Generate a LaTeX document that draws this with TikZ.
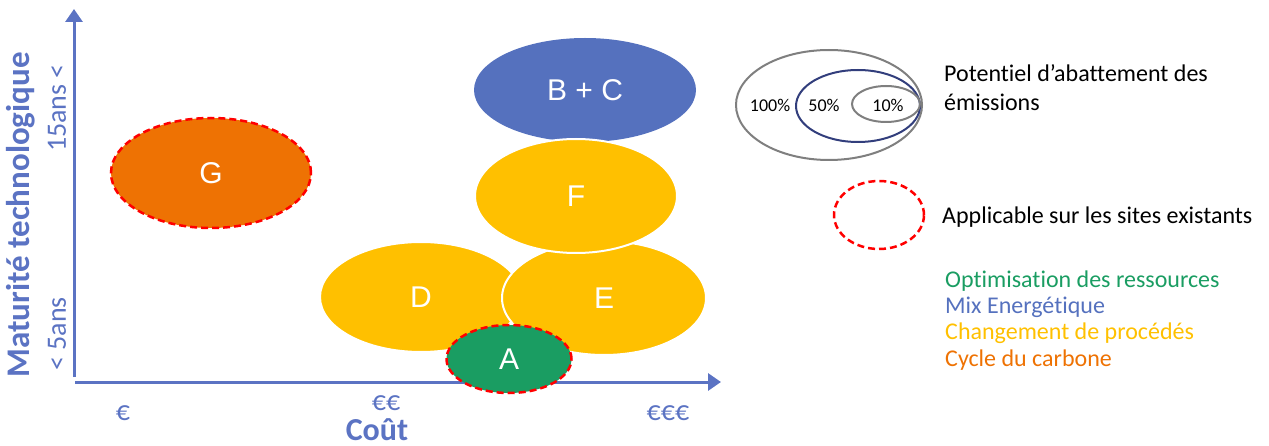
\documentclass[tikz,border=0pt]{standalone}
\usepackage{fontspec}
\setmainfont{Carlito}[Ligatures=NoCommon]
\newfontfamily\arialf{Liberation Sans}
\usetikzlibrary{shapes.geometric,arrows.meta}
\definecolor{axisblue}{HTML}{5B73C3}
\definecolor{bcblue}{HTML}{5571BE}
\definecolor{goldy}{HTML}{FFC000}
\definecolor{greeny}{HTML}{1A9D62}
\definecolor{orangy}{HTML}{EE7203}
\definecolor{redd}{HTML}{FF0000}
\definecolor{grayy}{HTML}{7F7F7F}
\definecolor{navy}{HTML}{323E7C}
\tikzset{
  blob/.style={ellipse, inner sep=0pt, text=white, font=\arialf\fontsize{30}{30}\selectfont},
  yellowblob/.style={blob, fill=goldy, draw=white, line width=2pt},
  reddash/.style={draw=redd, line width=2.5pt, dash pattern=on 7pt off 4pt},
  axisline/.style={draw=axisblue, line width=3pt, -{Triangle[length=13pt,width=17pt]}},
  axislabel/.style={text=axisblue, font=\bfseries\fontsize{33}{33}\selectfont, inner sep=0pt},
  ticklabel/.style={text=axisblue, font=\fontsize{28}{28}\selectfont, inner sep=0pt},
  legtext/.style={font=\fontsize{24}{29}\selectfont, inner sep=0pt, anchor=base west, align=left},
  cattext/.style={font=\fontsize{24}{26}\selectfont, inner sep=0pt, anchor=base west},
  pct/.style={font=\fontsize{18}{18}\selectfont, inner sep=0pt, anchor=base}
}
\begin{document}
\begin{tikzpicture}[x=1pt,y=-1pt]
\useasboundingbox (0,0) rectangle (1269,446);
% axes
\coordinate (yo) at (74,377);
\coordinate (yt) at (74,9);
\coordinate (xo) at (75,382);
\coordinate (xt) at (721,382);
\draw[axisline] (yo) -- (yt);
\draw[axisline] (xo) -- (xt);
% axis labels
\node[axislabel, rotate=90] (ylab) at (21,215) {Maturité technologique};
\node[ticklabel, rotate=90] (y15) at (57,108) {15ans <};
\node[ticklabel, rotate=90] (y5) at (57,334) {< 5ans};
\node[ticklabel, anchor=base] (e1) at (123,420) {€};
\node[ticklabel, anchor=base] (e2) at (386,410) {€€};
\node[ticklabel, anchor=base] (e3) at (668,420) {€€€};
\node[axislabel, anchor=base, font=\bfseries\fontsize{32}{32}\selectfont] (xlab) at (377,440) {Coût};
% blobs
\node[blob, fill=bcblue, minimum width=222pt, minimum height=104pt] (BC) at (585,90) {B + C};
\node[blob, fill=orangy, reddash, minimum width=200pt, minimum height=110pt] (G) at (211,173) {G};
\node[yellowblob, minimum width=202pt, minimum height=110pt] (D) at (421,297) {D};
\node[yellowblob, minimum width=204pt, minimum height=114pt] (E) at (604,298) {E};
\node[yellowblob, minimum width=202pt, minimum height=114pt] (F) at (576,196) {F};
\node[blob, fill=greeny, reddash, minimum width=125pt, minimum height=68pt] (A) at (509,359) {A};
% legend: abatement potential
\node[ellipse, draw=grayy, line width=2pt, minimum width=186pt, minimum height=110pt] (L100) at (829,105) {};
\node[ellipse, draw=navy, line width=2pt, minimum width=124pt, minimum height=72pt] (L50) at (858,106) {};
\node[ellipse, draw=grayy, line width=2pt, minimum width=68pt, minimum height=36pt] (L10) at (886,104) {};
\node[pct] (p100) at (770,112) {100\%};
\node[pct] (p50) at (824,112) {50\%};
\node[pct] (p10) at (888,112) {10\%};
\node[legtext] (pot) at (944,111) {Potentiel d’abattement des\\émissions};
% legend: existing sites
\node[ellipse, reddash, minimum width=90pt, minimum height=68pt] (Lred) at (879,215) {};
\node[legtext] (app) at (942,224) {Applicable sur les sites existants};
% legend: categories
\node[cattext, text=greeny] (c1) at (945,288) {Optimisation des ressources};
\node[cattext, text=bcblue] (c2) at (945,314) {Mix Energétique};
\node[cattext, text=goldy] (c3) at (945,340) {Changement de procédés};
\node[cattext, text=orangy] (c4) at (945,366) {Cycle du carbone};
\end{tikzpicture}
\end{document}
